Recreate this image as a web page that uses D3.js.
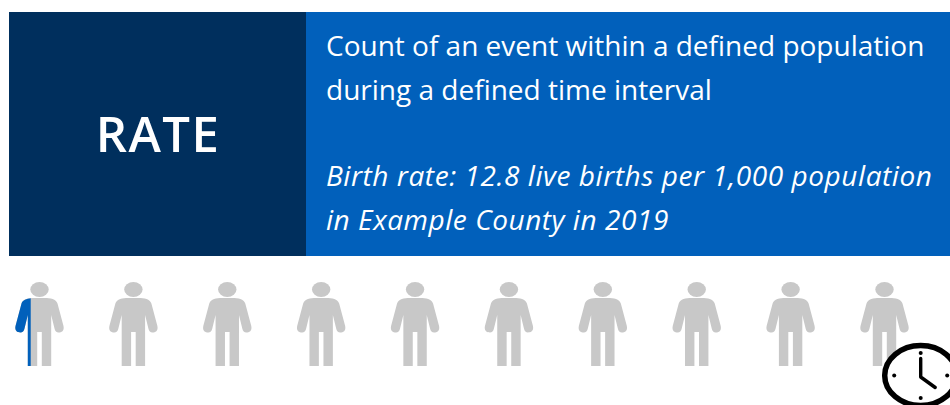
<!DOCTYPE html>
<html>
<head>
<meta charset="utf-8">
<style>
  html, body { margin: 0; padding: 0; background: #fff; }
  svg { display: block; }
  text { font-family: "Open Sans", sans-serif; fill: #fff; }
</style>
<script src="https://cdn.jsdelivr.net/npm/d3@7"></script>
</head>
<body>
<div id="chart"></div>
<script>
var title = 'RATE';
var definitionLines = ['Count of an event within a defined population', 'during a defined time interval'];
var exampleLines = ['Birth rate: 12.8 live births per 1,000 population', 'in Example County in 2019'];
var people = [1, 2, 3, 4, 5, 6, 7, 8, 9, 10];
var firstPersonShare = [0.317];
var clockDots = [0, 3, 6, 9];

var width = 950, height = 405;

var svg = d3.select('#chart').append('svg')
  .attr('width', width)
  .attr('height', height);

svg.append('rect').attr('x', 9).attr('y', 12).attr('width', 297).attr('height', 244).attr('fill', '#002f5d');
svg.append('rect').attr('x', 306).attr('y', 12).attr('width', 644).attr('height', 244).attr('fill', '#0160bb');

svg.append('text')
  .attr('x', 158).attr('y', 152)
  .attr('text-anchor', 'middle')
  .attr('font-size', 49)
  .attr('font-weight', 600)
  .attr('letter-spacing', 1.5)
  .text(title);

svg.selectAll('text.definition').data(definitionLines).enter().append('text')
  .attr('class', 'definition')
  .attr('x', 326)
  .attr('y', function(d, i) { return 56 + i * 44; })
  .attr('font-size', 28)
  .text(function(d) { return d; });

svg.selectAll('text.example').data(exampleLines).enter().append('text')
  .attr('class', 'example')
  .attr('x', 326)
  .attr('y', function(d, i) { return 186 + i * 44; })
  .attr('font-size', 28)
  .attr('font-style', 'italic')
  .attr('letter-spacing', 0.55)
  .text(function(d) { return d; });

var personX = d3.scaleLinear().domain([1, 10]).range([39.5, 884.5]);

// figure outline, origin on the body axis at the top of the head
var bodyPath = 'M-5,16 C-11,16 -16.5,17 -18,21.5 L-24,44 C-25,49 -22,50.5 -19,50.5 C-17,50.5 -15.5,49 -15,46.5 L-11.7,33'
  + ' L-11.7,84 L-2.3,84 L-2.3,50 L2.3,50 L2.3,84 L11.7,84 L11.7,33 L15,46.5 C15.5,49 17,50.5 19,50.5 C22,50.5 25,49 24,44'
  + ' L18,21.5 C16.5,17 11,16 5,16 Z';

var personG = svg.selectAll('g.person').data(people).enter().append('g')
  .attr('class', 'person')
  .attr('transform', function(d) { return 'translate(' + personX(d) + ',282)'; })
  .attr('fill', '#c8c8c8');
personG.append('ellipse').attr('cx', 0).attr('cy', 7.5).attr('rx', 9.2).attr('ry', 7.6);
personG.append('path').attr('d', bodyPath);

var shareX = d3.scaleLinear().domain([0, 1]).range([-24, 24]);

svg.append('clipPath').attr('id', 'share-clip')
  .append('rect')
  .attr('x', shareX(0) - 1)
  .attr('y', 0)
  .attr('width', shareX(firstPersonShare[0]) - shareX(0) + 1)
  .attr('height', 90);

// only the body of the first person takes the share colour
svg.select('g.person').append('path')
  .attr('d', bodyPath)
  .attr('clip-path', 'url(#share-clip)')
  .attr('fill', '#0160bb');

// clock is squashed in the reference and runs off the bottom right corner
var clock = svg.append('g').attr('transform', 'translate(920.7,375.5)');
clock.append('ellipse')
  .attr('rx', 36).attr('ry', 30)
  .attr('fill', '#fff')
  .attr('stroke', '#000')
  .attr('stroke-width', 5.5);

var clockAngle = d3.scaleLinear().domain([0, 12]).range([-Math.PI / 2, 3 * Math.PI / 2]);
clock.selectAll('circle.dot').data(clockDots).enter().append('circle')
  .attr('class', 'dot')
  .attr('cx', function(d) { return 26.5 * Math.cos(clockAngle(d)); })
  .attr('cy', function(d) { return 22.5 * Math.sin(clockAngle(d)); })
  .attr('r', 2)
  .attr('fill', '#000');

clock.append('path')
  .attr('d', d3.line()([[0, -17], [0, 1.5], [14.5, 12]]))
  .attr('fill', 'none')
  .attr('stroke', '#000')
  .attr('stroke-width', 3.4)
  .attr('stroke-linecap', 'round')
  .attr('stroke-linejoin', 'round');
</script>
</body>
</html>
